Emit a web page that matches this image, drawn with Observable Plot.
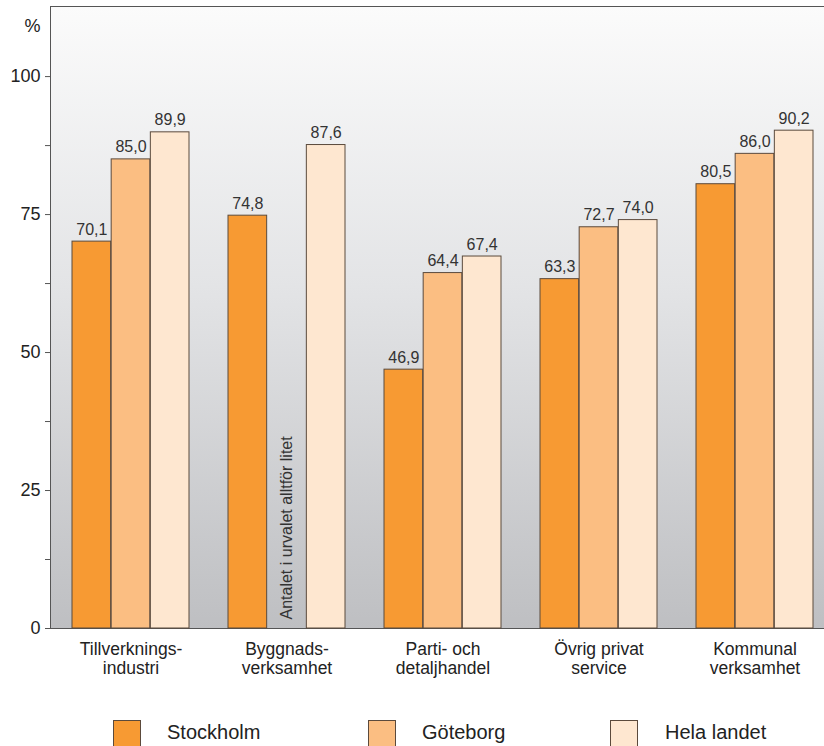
<!DOCTYPE html>
<html><head><meta charset="utf-8">
<script src="https://cdn.jsdelivr.net/npm/d3@7"></script>
<script src="https://cdn.jsdelivr.net/npm/@observablehq/plot@0.6"></script>
<style>
body{margin:0;background:#fff;font-family:"Liberation Sans",Arial,sans-serif;}
#wrap{position:relative;width:824px;height:746px;overflow:hidden;}
#chart svg{display:block;}
.sw{position:absolute;top:0;width:26px;height:30px;border:1px solid #5b4a3c;}
.lt{position:absolute;top:0;font-size:20px;line-height:24px;color:#222;white-space:nowrap;}
</style></head>
<body><div id="wrap"><div id="chart"></div><div id="legend"></div></div>
<script>
const categories = ["Tillverkningsindustri", "Byggnadsverksamhet", "Parti- och detaljhandel", "Övrig privat service", "Kommunal verksamhet"];
const tickLabels = ["Tillverknings-\nindustri", "Byggnads-\nverksamhet", "Parti- och\ndetaljhandel", "Övrig privat\nservice", "Kommunal\nverksamhet"];
const seriesNames = ["Stockholm", "Göteborg", "Hela landet"];
const stockholm = [70.1, 74.8, 46.9, 63.3, 80.5];
const goteborg = [85.0, null, 64.4, 72.7, 86.0];
const helaLandet = [89.9, 87.6, 67.4, 74.0, 90.2];
const colors = ["#f79a33", "#fbbe82", "#fee7d0"];
const note = "Antalet i urvalet alltför litet";
const majorTicks = [0, 25, 50, 75, 100];
const minorTicks = [12.5, 37.5, 62.5, 87.5];
const yMax = 112.7;

const seriesValues = [stockholm, goteborg, helaLandet];
const rows = [];
seriesValues.forEach((vals, k) => vals.forEach((v, i) => {
  if (v != null) rows.push({industry: categories[i], series: seriesNames[k], k, value: v});
}));

const W = 824, H = 700;
const xRange = [50, 834];
const step = (xRange[1] - xRange[0]) / (5 - 0.25 + 2 * 0.127);
const bw = step * 0.75 / 3;
const fmt = v => v.toFixed(1).replace(".", ",");
const strokeC = "#5b4a3c";

const marks = [
  Plot.frame({fill: "url(#bg)", stroke: "#555", strokeWidth: 1}),
  Plot.axisY(majorTicks, {tickSize: 5, tickPadding: 5, fontSize: 18, fill: "#222", stroke: "#555", label: null}),
  Plot.axisY(minorTicks, {tickSize: 5, tickFormat: () => "", stroke: "#555", label: null}),
  Plot.axisX({tickSize: 0, tickPadding: 13, fontSize: 17.5, lineHeight: 1.1, fill: "#222", label: null,
    tickFormat: d => tickLabels[categories.indexOf(d)]}),
];
seriesNames.forEach((s, k) => {
  const data = rows.filter(r => r.k === k);
  marks.push(Plot.barY(data, {x: "industry", y: "value", fill: colors[k], stroke: strokeC, strokeWidth: 1,
    insetLeft: k * bw, insetRight: (2 - k) * bw}));
  marks.push(Plot.text(data, {x: "industry", y: "value", text: d => fmt(d.value), dx: (k - 1) * bw, dy: -7,
    lineAnchor: "bottom", fontSize: 16, fill: "#333"}));
});
marks.push(Plot.text([{industry: categories[1], v: 0}], {x: "industry", y: "v", text: () => note, rotate: -90,
  textAnchor: "start", dy: -9, fontSize: 16, fill: "#333"}));
marks.push(Plot.text(["%"], {frameAnchor: "top-left", text: d => d, dx: -10, dy: 13, textAnchor: "end", fontSize: 18, fill: "#222"}));

const chart = Plot.plot({
  width: W, height: H,
  marginLeft: 50, marginRight: W - xRange[1], marginTop: 6, marginBottom: 72,
  style: {fontFamily: "'Liberation Sans', Arial, sans-serif", background: "transparent", overflow: "hidden"},
  x: {domain: categories, range: xRange, paddingInner: 0.25, paddingOuter: 0.127, axis: null, label: null},
  y: {domain: [0, yMax], axis: null, label: null},
  marks
});
const svg = d3.select(chart);
const defs = svg.insert("defs", ":first-child");
const g = defs.append("linearGradient").attr("id", "bg").attr("x1", 0).attr("y1", 0).attr("x2", 0).attr("y2", 1);
g.append("stop").attr("offset", "0%").attr("stop-color", "#fbfbfb");
g.append("stop").attr("offset", "45%").attr("stop-color", "#e3e4e6");
g.append("stop").attr("offset", "100%").attr("stop-color", "#bebfc2");
document.getElementById("chart").appendChild(chart);

const legend = document.getElementById("legend");
const legPos = [[113, 167], [368, 422], [610, 665]];
seriesNames.forEach((s, k) => {
  const sw = document.createElement("div");
  sw.className = "sw"; sw.style.left = legPos[k][0] + "px"; sw.style.top = "720px"; sw.style.background = colors[k];
  const t = document.createElement("div");
  t.className = "lt"; t.textContent = s; t.style.left = legPos[k][1] + "px"; t.style.top = "720px";
  legend.appendChild(sw); legend.appendChild(t);
});
</script>
</body></html>
